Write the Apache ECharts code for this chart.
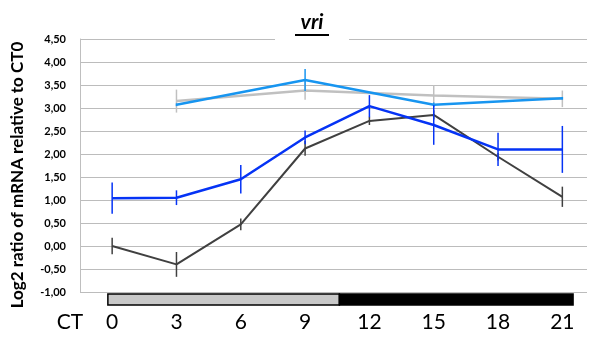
<!DOCTYPE html>
<html><head><meta charset="utf-8">
<script src="https://cdn.jsdelivr.net/npm/echarts@6/dist/echarts.min.js"></script>
<style>html,body{margin:0;padding:0;background:#fff}#c{width:589px;height:338px}</style>
</head><body><div id="c"></div>
<script>
// ---- data ----
const ctLabels = [0, 3, 6, 9, 12, 15, 18, 21];
const darkVals = [0.00, -0.40, 0.47, 2.12, 2.72, 2.85, 1.94, 1.07];
const darkErr  = [0.18, 0.27, 0.13, 0.16, 0.09, 0.10, 0.08, 0.22];
const blueVals = [1.04, 1.05, 1.45, 2.36, 3.04, 2.63, 2.10, 2.10];
const blueErr  = [0.34, 0.16, 0.31, 0.15, 0.24, 0.43, 0.36, 0.51];
const ct6 = [3, 9, 15, 21];
const lightBlueVals = [3.07, 3.61, 3.07, 3.21];
const lightBlueErr  = [0.03, 0.24, 0.05, 0.03];
const greyVals = [3.15, 3.38, 3.27, 3.20];
const greyErr  = [0.25, 0.20, 0.23, 0.18];
const lightDark = [[-0.2, 10.6, 0], [10.6, 21.5, 1]]; // [start CT, end CT, 0 = light / 1 = dark]
const yTicks = { min: -1, max: 4.5, step: 0.5 };
const yTitle = 'Log2 ratio of mRNA relative to CT0';
const xTitle = 'CT';

const FONT = 'Lato, "Open Sans", sans-serif';
const C_DARK = '#404040', C_BLUE = '#0533f5', C_LBLUE = '#1795f0', C_GREY = '#c0c0c0';

function pairs(xs, ys) { return xs.map((x, i) => [x, ys[i]]); }
function errData(xs, ys, es) { return xs.map((x, i) => [x, ys[i] - es[i], ys[i] + es[i]]); }

function errSeries(xs, ys, es, color, z) {
  return {
    type: 'custom', z: z, silent: true,
    data: errData(xs, ys, es),
    renderItem: function (params, api) {
      const a = api.coord([api.value(0), api.value(1)]);
      const b = api.coord([api.value(0), api.value(2)]);
      return { type: 'line', shape: { x1: a[0], y1: a[1], x2: b[0], y2: b[1] },
               style: { stroke: color, lineWidth: 1.5 } };
    }
  };
}
function lineSeries(xs, ys, color, width, z) {
  return { type: 'line', z: z, data: pairs(xs, ys), symbol: 'none', silent: true,
           lineStyle: { color: color, width: width } };
}

const chart = echarts.init(document.getElementById('c'));
chart.setOption({
  animation: false,
  backgroundColor: '#fff',
  textStyle: { fontFamily: FONT },
  title: {
    text: '{a|vri}\n{b| }',
    left: 275, top: 9,
    backgroundColor: '#fff',
    padding: [2, 20, 5, 20],
    textStyle: {
      rich: {
        a: { fontFamily: FONT, fontSize: 21, fontWeight: 'bold', fontStyle: 'italic', color: '#000', lineHeight: 22, align: 'center' },
        b: { width: 34, height: 2, backgroundColor: '#000', lineHeight: 4, fontSize: 2, align: 'center' }
      }
    },
    z: 10
  },
  graphic: [{
    type: 'text', x: 18, y: 175, rotation: Math.PI / 2, silent: true,
    style: { text: yTitle, align: 'center', verticalAlign: 'middle', fill: '#000',
             font: 'bold 17px ' + FONT }
  }, {
    type: 'text', x: 70, y: 322, silent: true,
    style: { text: xTitle, align: 'center', verticalAlign: 'middle', fill: '#000',
             font: '21px ' + FONT }
  }],
  grid: { left: 80, right: 2, top: 39, bottom: 46, containLabel: false, outerBoundsMode: 'none' },
  xAxis: {
    type: 'value', min: -1.5, max: 22.15,
    splitLine: { show: false },
    axisLine: { show: false, onZero: false },
    axisTick: { show: false },
    axisLabel: { customValues: ctLabels, color: '#000', fontSize: 21, fontFamily: FONT, margin: 20 }
  },
  yAxis: {
    type: 'value', min: yTicks.min, max: yTicks.max, interval: yTicks.step,
    axisLine: { show: true, onZero: false, lineStyle: { color: '#bfbfbf', width: 1 } },
    axisTick: { show: false },
    splitLine: { lineStyle: { color: '#bcbcbc', width: 1 } },
    axisLabel: { color: '#000', fontSize: 11, fontWeight: 'bold', fontFamily: FONT, margin: 14,
                 formatter: v => v.toFixed(2).replace('.', ',') }
  },
  series: [
    lineSeries(ct6, greyVals, C_GREY, 2.5, 2),
    errSeries(ct6, greyVals, greyErr, C_GREY, 2),
    lineSeries(ct6, lightBlueVals, C_LBLUE, 2.5, 3),
    errSeries(ct6, lightBlueVals, lightBlueErr, C_LBLUE, 3),
    lineSeries(ctLabels, darkVals, C_DARK, 2, 4),
    errSeries(ctLabels, darkVals, darkErr, C_DARK, 4),
    lineSeries(ctLabels, blueVals, C_BLUE, 2.5, 5),
    errSeries(ctLabels, blueVals, blueErr, C_BLUE, 5),
    {
      type: 'custom', silent: true, clip: false, z: 6,
      data: lightDark,
      renderItem: function (params, api) {
        const base = api.coord([api.value(0), yTicks.min]);
        const end = api.coord([api.value(1), yTicks.min]);
        const dark = api.value(2) === 1;
        return { type: 'rect',
                 shape: { x: base[0], y: base[1] + 2, width: end[0] - base[0], height: 11 },
                 style: { fill: dark ? '#000' : '#c8c8c8', stroke: '#000', lineWidth: 1.5 } };
      }
    }
  ]
});
</script></body></html>
